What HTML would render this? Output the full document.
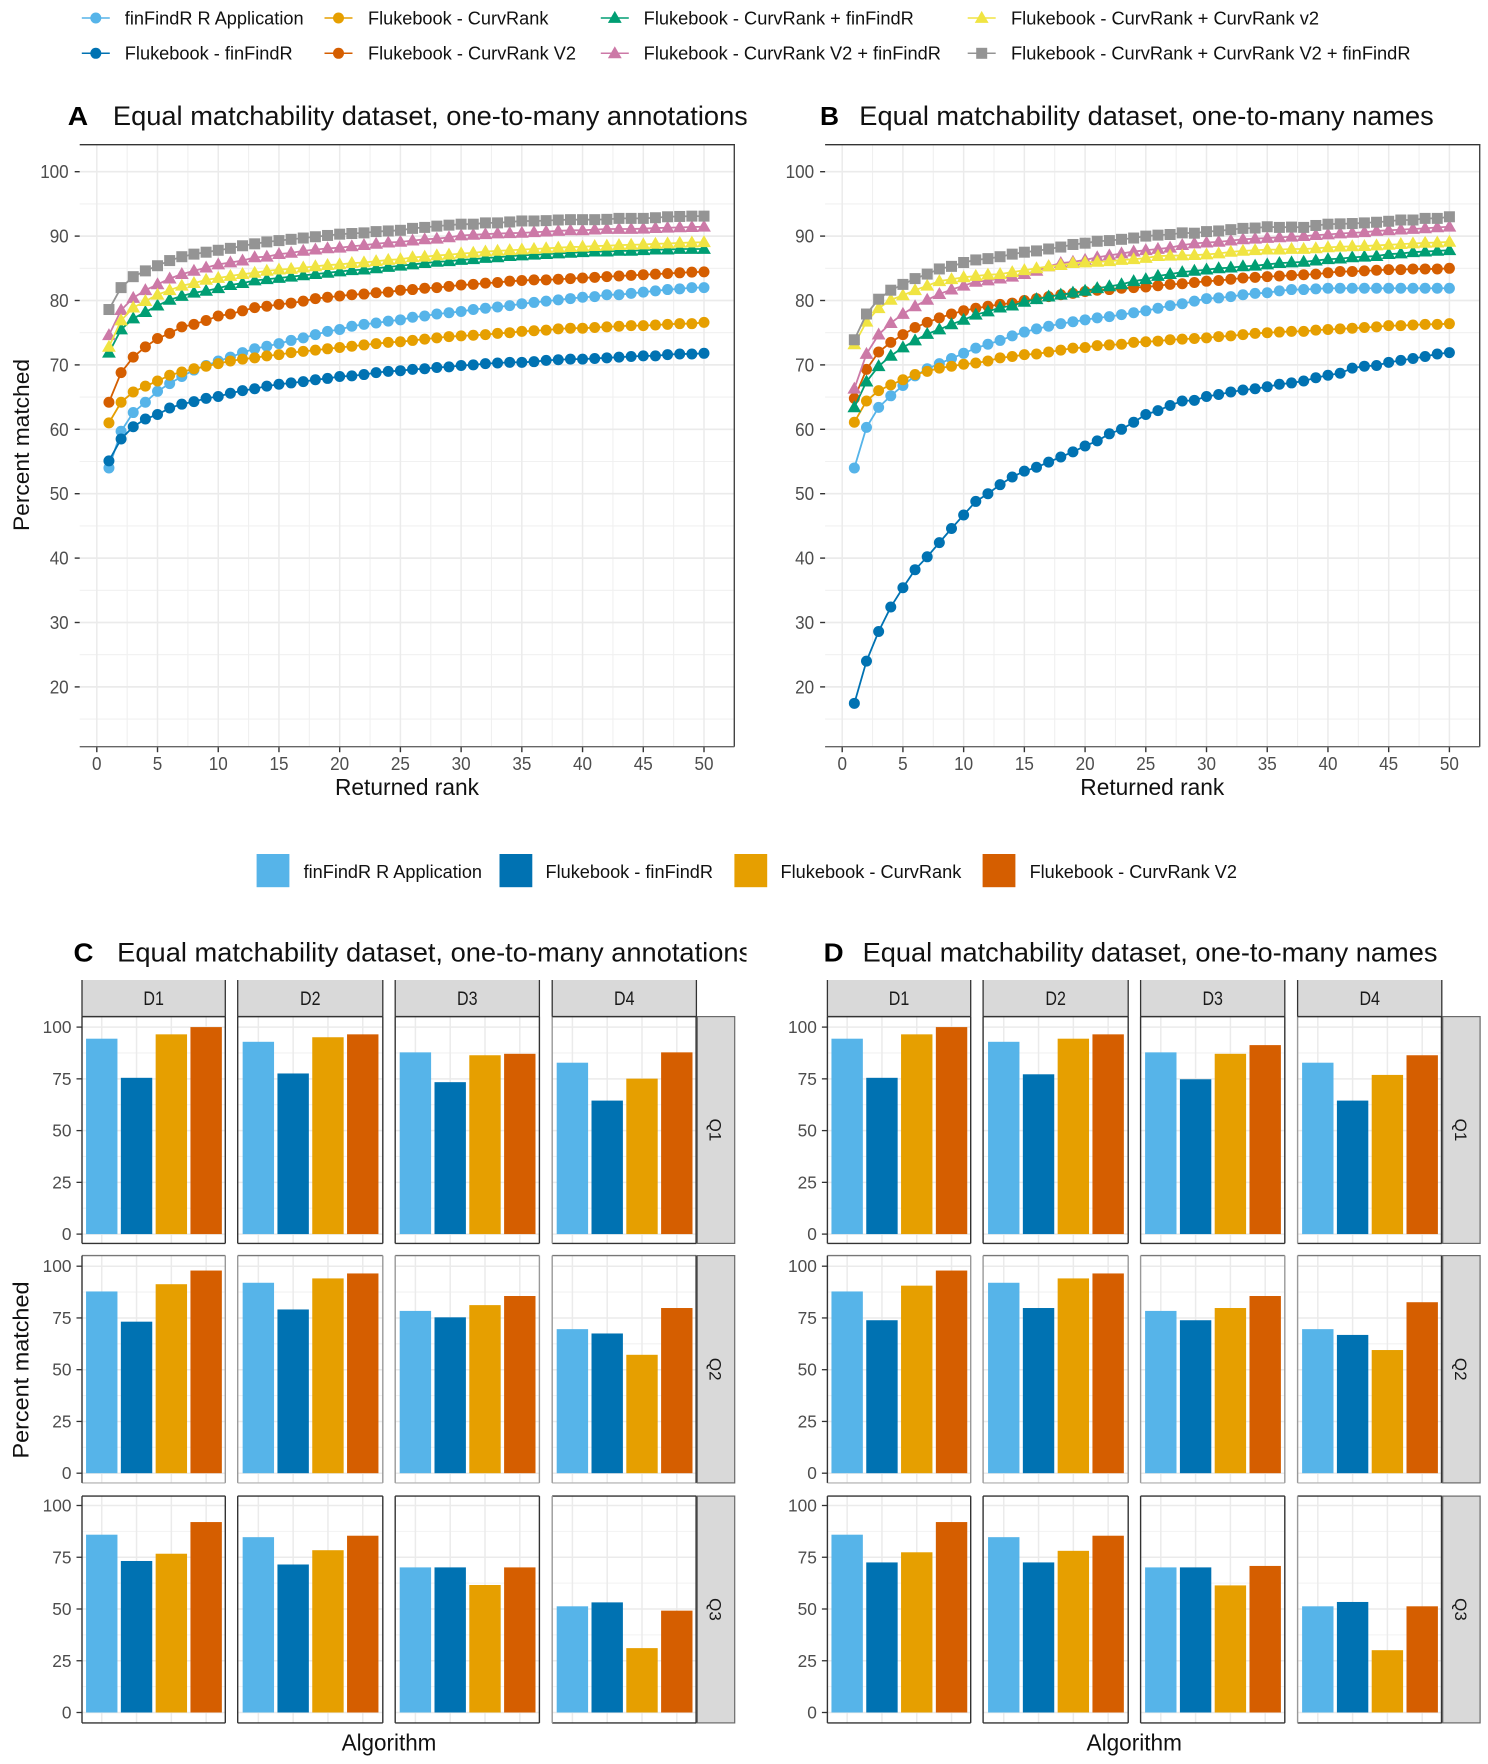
<!DOCTYPE html>
<html lang="en">
<head>
<meta charset="utf-8">
<title>Equal matchability dataset results</title>
<style>
html,body{margin:0;padding:0;background:#fff;}
svg{display:block;font-family:"Liberation Sans",sans-serif;filter:blur(0.35px);}
</style>
</head>
<body>
<svg id="figure" xmlns="http://www.w3.org/2000/svg" width="1488" height="1764" viewBox="0 0 1488 1764">
  <defs>
    <clipPath id="title-clip"><rect x="0" y="90" width="746.5" height="900"/></clipPath>
  </defs>
  <rect x="0" y="0" width="1488" height="1764" fill="#ffffff"/>
  <text x="67.8" y="125" font-size="26" font-weight="bold" fill="#000" textLength="20.4" lengthAdjust="spacingAndGlyphs">A</text>
  <text x="112.9" y="125" font-size="26.5" fill="#111" textLength="635" lengthAdjust="spacingAndGlyphs" clip-path="url(#title-clip)">Equal matchability dataset, one-to-many annotations</text>
  <text x="820" y="125" font-size="26" font-weight="bold" fill="#000" textLength="19" lengthAdjust="spacingAndGlyphs">B</text>
  <text x="859.3" y="125" font-size="26.5" fill="#111" textLength="574.5" lengthAdjust="spacingAndGlyphs">Equal matchability dataset, one-to-many names</text>
  <text x="73.5" y="961.7" font-size="26" font-weight="bold" fill="#000" textLength="20" lengthAdjust="spacingAndGlyphs">C</text>
  <text x="117.2" y="961.7" font-size="26.5" fill="#111" textLength="635" lengthAdjust="spacingAndGlyphs" clip-path="url(#title-clip)">Equal matchability dataset, one-to-many annotations</text>
  <text x="823.7" y="961.7" font-size="26" font-weight="bold" fill="#000" textLength="20" lengthAdjust="spacingAndGlyphs">D</text>
  <text x="862.6" y="961.7" font-size="26.5" fill="#111" textLength="574.9" lengthAdjust="spacingAndGlyphs">Equal matchability dataset, one-to-many names</text>
  <text x="335" y="795" font-size="23" fill="#111" textLength="144" lengthAdjust="spacingAndGlyphs">Returned rank</text>
  <text x="1080.3" y="795" font-size="23" fill="#111" textLength="144" lengthAdjust="spacingAndGlyphs">Returned rank</text>
  <text transform="translate(29 531) rotate(-90)" x="0" y="0" font-size="22" fill="#111" textLength="172" lengthAdjust="spacingAndGlyphs">Percent matched</text>
  <text transform="translate(28.5 1458.5) rotate(-90)" x="0" y="0" font-size="22" fill="#111" textLength="177" lengthAdjust="spacingAndGlyphs">Percent matched</text>
  <text x="341.6" y="1750.5" font-size="23" fill="#111" textLength="94.8" lengthAdjust="spacingAndGlyphs">Algorithm</text>
  <text x="1086.5" y="1750.5" font-size="23" fill="#111" textLength="95.4" lengthAdjust="spacingAndGlyphs">Algorithm</text>
  <g id="line-legend"></g>
  <g id="bar-legend"></g>
  <g id="panel-a"></g>
  <g id="panel-b"></g>
  <g id="panel-c"></g>
  <g id="panel-d"></g>
</svg>
<script>
// ---------- tick labels and categories ----------
const lineYTicks = [20, 30, 40, 50, 60, 70, 80, 90, 100];
const lineYMinor = [15, 25, 35, 45, 55, 65, 75, 85, 95];
const lineXTicks = [0, 5, 10, 15, 20, 25, 30, 35, 40, 45, 50];
const lineXMinor = [2.5, 7.5, 12.5, 17.5, 22.5, 27.5, 32.5, 37.5, 42.5, 47.5];
const barYTicks = [0, 25, 50, 75, 100];
const barYMinor = [12.5, 37.5, 62.5, 87.5];
const datasets = ['D1', 'D2', 'D3', 'D4'];
const quality = ['Q1', 'Q2', 'Q3'];
const barLabels = ['finFindR R Application', 'Flukebook - finFindR', 'Flukebook - CurvRank', 'Flukebook - CurvRank V2'];

// ---------- panel A: one-to-many annotations, rank 1..50 ----------
const aFinFindRApp = [54.0,59.7,62.6,64.2,65.9,67.1,68.2,69.2,69.9,70.6,71.2,71.9,72.5,72.9,73.3,73.8,74.2,74.7,75.2,75.5,76,76.3,76.5,76.8,77,77.4,77.6,77.9,78.1,78.3,78.6,78.8,79,79.2,79.5,79.7,79.9,80.1,80.3,80.5,80.6,80.9,80.9,81.1,81.3,81.5,81.7,81.8,82,82];
const aFinFindR = [55.1,58.5,60.4,61.6,62.3,63.3,63.9,64.3,64.8,65.1,65.6,66,66.3,66.7,67,67.2,67.4,67.7,67.9,68.2,68.3,68.5,68.8,69,69.1,69.3,69.4,69.6,69.7,69.9,70,70.2,70.3,70.4,70.4,70.5,70.7,70.8,70.9,70.9,71,71.1,71.2,71.3,71.4,71.4,71.6,71.7,71.7,71.8];
const aCurvRank = [61,64.2,65.8,66.7,67.5,68.4,68.9,69.4,69.8,70.2,70.6,70.9,71.1,71.4,71.6,71.9,72.1,72.3,72.5,72.7,72.9,73.1,73.3,73.5,73.6,73.8,74,74.2,74.4,74.5,74.6,74.7,74.9,75,75.2,75.3,75.4,75.6,75.7,75.7,75.8,75.9,76,76.1,76.1,76.2,76.3,76.4,76.4,76.6];
const aCurvRankV2 = [64.2,68.8,71.2,72.8,74.1,74.9,75.9,76.3,76.9,77.6,77.9,78.4,78.9,79.1,79.4,79.6,79.9,80.3,80.5,80.7,80.9,81,81.2,81.3,81.6,81.7,81.9,82,82.2,82.4,82.5,82.7,82.8,83,83.1,83.2,83.2,83.3,83.4,83.5,83.6,83.7,83.8,83.9,84,84.1,84.2,84.3,84.4,84.45];
const aCurvFin = [71.9,75.5,77.2,78.2,79.2,80.1,80.7,81.2,81.5,81.9,82.4,82.7,83.1,83.3,83.5,83.7,83.9,84.1,84.3,84.5,84.7,84.8,85,85.2,85.4,85.6,85.8,86,86.1,86.3,86.4,86.6,86.7,86.9,87,87.1,87.2,87.3,87.4,87.5,87.6,87.6,87.7,87.7,87.8,87.9,87.9,88,88,88];
const aV2Fin = [74.6,78.5,80.4,81.6,82.5,83.4,84.1,84.6,85.1,85.6,85.9,86.2,86.7,86.8,87.2,87.4,87.7,87.9,88.1,88.2,88.4,88.6,88.8,89,89.1,89.3,89.5,89.6,89.8,90.1,90.2,90.3,90.4,90.45,90.5,90.6,90.7,90.8,90.9,90.9,91,91.1,91.1,91.1,91.15,91.25,91.3,91.35,91.4,91.45];
const aCurvV2 = [72.8,76.9,78.9,79.9,80.9,81.6,82.3,82.7,83.2,83.5,83.8,84.1,84.3,84.6,84.8,84.9,85.1,85.3,85.5,85.6,85.8,85.9,86.1,86.3,86.4,86.7,86.8,87,87.1,87.3,87.4,87.6,87.7,87.8,87.9,88,88.1,88.2,88.3,88.35,88.45,88.5,88.6,88.65,88.7,88.8,88.85,88.95,89,89.05];
const aAllThree = [78.6,82,83.7,84.6,85.4,86.2,86.8,87.2,87.5,87.8,88.1,88.5,88.8,89.1,89.3,89.5,89.7,89.9,90.1,90.3,90.4,90.5,90.7,90.8,90.9,91.2,91.35,91.55,91.7,91.85,91.85,92.05,92.05,92.2,92.35,92.35,92.4,92.5,92.55,92.55,92.55,92.6,92.75,92.75,92.75,92.85,93,93.05,93.1,93.1];

// ---------- panel B: one-to-many names, rank 1..50 ----------
const bFinFindRApp = [54,60.3,63.4,65.2,66.8,68.3,69.4,70.2,71,71.8,72.6,73.2,73.8,74.5,75.1,75.6,76,76.4,76.7,77,77.3,77.5,77.8,78.1,78.4,78.8,79.2,79.5,79.9,80.3,80.4,80.6,80.9,81.1,81.2,81.5,81.7,81.7,81.8,81.9,81.9,81.9,81.9,81.9,81.9,81.9,81.9,81.9,81.9,81.9];
const bFinFindR = [17.45,24,28.6,32.4,35.4,38.2,40.2,42.4,44.6,46.7,48.8,50,51.4,52.6,53.5,54.1,54.9,55.7,56.5,57.4,58.2,59.3,60,61.1,62.3,62.9,63.7,64.4,64.5,65.1,65.4,65.8,66.1,66.3,66.6,67,67.2,67.5,68,68.4,68.7,69.5,69.8,69.9,70.4,70.7,71,71.3,71.7,71.9];
const bCurvRank = [61.1,64.4,66,66.9,67.7,68.5,69,69.5,69.8,70.1,70.3,70.6,71.1,71.3,71.6,71.7,72,72.3,72.6,72.7,73,73.1,73.2,73.5,73.6,73.7,73.9,74,74.1,74.2,74.4,74.5,74.7,74.9,75,75.1,75.2,75.2,75.4,75.5,75.6,75.7,75.8,75.9,76.1,76.1,76.2,76.3,76.3,76.4];
const bCurvRankV2 = [64.8,69.3,72,73.5,74.7,75.8,76.6,77.3,77.9,78.4,78.8,79.1,79.4,79.6,80,80.3,80.6,80.9,81.1,81.4,81.6,81.7,81.9,82,82.1,82.3,82.5,82.6,82.8,83,83.1,83.3,83.5,83.6,83.7,83.8,83.9,84,84.1,84.3,84.5,84.5,84.6,84.7,84.8,84.8,84.9,84.9,84.9,85];
const bCurvFin = [63.4,67.4,69.8,71.4,72.7,73.8,74.8,75.5,76.3,77,77.8,78.3,78.9,79.2,79.8,80.2,80.6,80.9,81.2,81.5,81.9,82.2,82.5,83,83.3,83.8,84.1,84.4,84.6,84.8,85,85.1,85.3,85.4,85.6,85.8,85.9,86,86.2,86.4,86.5,86.7,86.8,86.9,87.2,87.3,87.5,87.6,87.7,87.8];
const bV2Fin = [66.3,71.7,74.7,76.5,77.9,79.1,80.1,81,81.7,82.3,82.9,83.1,83.4,83.7,84.1,84.6,85.3,85.8,86,86.3,86.7,87,87.3,87.6,87.8,88,88.2,88.6,88.85,89,89.1,89.3,89.5,89.6,89.7,89.8,89.9,90,90.15,90.25,90.4,90.5,90.6,90.8,90.9,91,91.1,91.2,91.35,91.45];
const bCurvV2 = [73.2,76.7,78.8,80.1,80.8,81.6,82.3,83,83.3,83.6,83.8,84,84.1,84.4,84.7,85,85.3,85.5,85.8,85.9,86,86.1,86.3,86.4,86.6,86.9,86.95,87,87.05,87.15,87.3,87.55,87.7,87.8,87.9,87.9,88,88,88.1,88.25,88.35,88.4,88.45,88.55,88.65,88.75,88.85,88.95,89,89.1];
const bAllThree = [73.9,77.9,80.2,81.6,82.5,83.4,84.1,84.9,85.3,85.9,86.3,86.5,86.8,87.2,87.5,87.7,88,88.3,88.7,88.9,89.2,89.3,89.5,89.7,90,90.15,90.25,90.5,90.45,90.7,90.8,91,91.2,91.25,91.45,91.35,91.4,91.35,91.65,91.85,91.9,91.95,92.05,92.15,92.3,92.5,92.5,92.75,92.75,93];

// ---------- panel C bars: each row lists D1..D4, each with four algorithms ----------
const cQ1 = [[94.4,75.5,96.5,100],[92.9,77.6,95.1,96.5],[87.8,73.4,86.4,87.1],[82.8,64.5,75.1,87.8]];
const cQ2 = [[87.8,73.2,91.3,97.9],[92,79.1,94.1,96.5],[78.4,75.3,81.2,85.6],[69.6,67.5,57.2,79.8]];
const cQ3 = [[85.9,73.2,76.7,92],[84.7,71.5,78.4,85.4],[70.1,70.1,61.6,70.1],[51.3,53.2,31.1,49.2]];

// ---------- panel D bars ----------
const dQ1 = [[94.4,75.5,96.5,100],[92.9,77.2,94.4,96.5],[87.8,74.8,87.1,91.3],[82.8,64.5,76.9,86.4]];
const dQ2 = [[87.8,73.9,90.6,97.9],[92,79.8,94.1,96.5],[78.4,73.9,79.8,85.6],[69.6,66.8,59.5,82.6]];
const dQ3 = [[85.9,72.5,77.4,92],[84.7,72.5,78.1,85.4],[70.1,70.1,61.4,70.8],[51.3,53.4,30.1,51.3]];

const C = {light:'#56B4E9', blue:'#0072B2', orange:'#E69F00', verm:'#D55E00', green:'#009E73', yellow:'#F0E442', pink:'#CC79A7', gray:'#949494'};
const NS = 'http://www.w3.org/2000/svg';

function make(tag, attrs, parent) {
  const e = document.createElementNS(NS, tag);
  for (const k in attrs) e.setAttribute(k, attrs[k]);
  parent.appendChild(e);
  return e;
}

function label(str, x, y, size, fill, anchor, len, parent) {
  const attrs = {x: x, y: y, 'font-size': size, fill: fill, 'text-anchor': anchor};
  if (len) { attrs.textLength = len; attrs.lengthAdjust = 'spacingAndGlyphs'; }
  const t = make('text', attrs, parent);
  t.textContent = str;
  return t;
}

function seg(x1, y1, x2, y2, color, width, parent) {
  return make('line', {x1: x1, y1: y1, x2: x2, y2: y2, stroke: color, 'stroke-width': width}, parent);
}

function marker(shape, x, y, color, parent, k) {
  if (shape === 'circle') return make('circle', {cx: x, cy: y, r: 5.5 * k, fill: color}, parent);
  if (shape === 'square') return make('rect', {x: x - 5.5 * k, y: y - 5.5 * k, width: 11 * k, height: 11 * k, fill: color}, parent);
  return make('polygon', {points: (x - 6.9 * k) + ',' + (y + 4.9 * k) + ' ' + (x + 6.9 * k) + ',' + (y + 4.9 * k) + ' ' + x + ',' + (y - 7.1 * k), fill: color}, parent);
}

// ---------- line panels ----------
const PANEL_TOP = 144.7, PANEL_BOTTOM = 746.7;
function lineX(rank, dx) { return 96.8 + dx + rank * 12.144; }
function lineY(v) { return 171.7 + (100 - v) * 6.44; }

function drawLinePanel(group, dx, seriesList) {
  const left = 79.7 + dx, right = 734.3 + dx;
  lineYMinor.forEach(function (v) {
    const g = seg(left, lineY(v), right, lineY(v), '#f1f1f1', 1.1, group);
    
    
  });
  lineXMinor.forEach(function (v) {
    const g = seg(lineX(v, dx), PANEL_TOP, lineX(v, dx), PANEL_BOTTOM, '#f0f0f0', 1.1, group);
    
    
  });
  lineYTicks.forEach(function (v) {
    const g = seg(left, lineY(v), right, lineY(v), '#ebebeb', 1.7, group);
    
    
    const t = seg(left - 5, lineY(v), left, lineY(v), '#333333', 1.4, group);
    
    
    const s = String(v);
    const l = label(s, left - 11, lineY(v) + 6.5, 18, '#4d4d4d', 'end', s.length * 9.5, group);
    
    
  });
  lineXTicks.forEach(function (v) {
    const g = seg(lineX(v, dx), PANEL_TOP, lineX(v, dx), PANEL_BOTTOM, '#ebebeb', 1.5, group);
    
    
    const t = seg(lineX(v, dx), PANEL_BOTTOM, lineX(v, dx), PANEL_BOTTOM + 5.5, '#333333', 1.4, group);
    
    
    const s = String(v);
    const l = label(s, lineX(v, dx), 770, 18, '#4d4d4d', 'middle', s.length * 9.5, group);
    
    
  });
  seriesList.forEach(function (s) {
    const sg = make('g', {}, group);
    
    
    const pts = s.values.map(function (v, i) { return lineX(i + 1, dx).toFixed(2) + ',' + lineY(v).toFixed(2); }).join(' ');
    const pl = make('polyline', {points: pts, fill: 'none', stroke: s.color, 'stroke-width': 1.8}, sg);
    
    
    s.values.forEach(function (v, i) {
      const m = marker(s.shape, lineX(i + 1, dx), lineY(v), s.color, sg, 1);
      
      
    });
  });
  const top = seg(left, PANEL_TOP, right + 0.7, PANEL_TOP, '#333333', 1.4, group);
  
  
  const rgt = seg(right, PANEL_TOP, right, PANEL_BOTTOM, '#444444', 1.4, group);
  
  
  const bot = seg(left, PANEL_BOTTOM, right, PANEL_BOTTOM, '#666666', 1.4, group);
  
  
}

drawLinePanel(document.getElementById('panel-a'), 0, [
  {key: 'finfindr-r-application', color: C.light, shape: 'circle', values: aFinFindRApp},
  {key: 'flukebook-finfindr', color: C.blue, shape: 'circle', values: aFinFindR},
  {key: 'flukebook-curvrank', color: C.orange, shape: 'circle', values: aCurvRank},
  {key: 'flukebook-curvrank-v2', color: C.verm, shape: 'circle', values: aCurvRankV2},
  {key: 'curvrank-finfindr', color: C.green, shape: 'triangle', values: aCurvFin},
  {key: 'curvrank-v2-finfindr', color: C.pink, shape: 'triangle', values: aV2Fin},
  {key: 'curvrank-curvrank-v2', color: C.yellow, shape: 'triangle', values: aCurvV2},
  {key: 'curvrank-v2-all', color: C.gray, shape: 'square', values: aAllThree}
]);
drawLinePanel(document.getElementById('panel-b'), 745.4, [
  {key: 'finfindr-r-application', color: C.light, shape: 'circle', values: bFinFindRApp},
  {key: 'flukebook-finfindr', color: C.blue, shape: 'circle', values: bFinFindR},
  {key: 'flukebook-curvrank', color: C.orange, shape: 'circle', values: bCurvRank},
  {key: 'flukebook-curvrank-v2', color: C.verm, shape: 'circle', values: bCurvRankV2},
  {key: 'curvrank-finfindr', color: C.green, shape: 'triangle', values: bCurvFin},
  {key: 'curvrank-v2-finfindr', color: C.pink, shape: 'triangle', values: bV2Fin},
  {key: 'curvrank-curvrank-v2', color: C.yellow, shape: 'triangle', values: bCurvV2},
  {key: 'curvrank-v2-all', color: C.gray, shape: 'square', values: bAllThree}
]);

// ---------- top legend ----------
const lineLegend = document.getElementById('line-legend');
[
  ['finFindR R Application', C.light, 'circle', 95.8, 18, 124.8, 178.8],
  ['Flukebook - finFindR', C.blue, 'circle', 95.8, 53.3, 124.8, 167.9],
  ['Flukebook - CurvRank', C.orange, 'circle', 338.5, 18, 368, 180.4],
  ['Flukebook - CurvRank V2', C.verm, 'circle', 338.5, 53.3, 368, 208],
  ['Flukebook - CurvRank + finFindR', C.green, 'triangle', 614.8, 18, 643.7, 270.1],
  ['Flukebook - CurvRank V2 + finFindR', C.pink, 'triangle', 614.8, 53.3, 643.7, 297.2],
  ['Flukebook - CurvRank + CurvRank v2', C.yellow, 'triangle', 981.7, 18, 1011, 308],
  ['Flukebook - CurvRank + CurvRank V2 + finFindR', C.gray, 'square', 981.7, 53.3, 1011, 399.5]
].forEach(function (d) {
  const g = make('g', {}, lineLegend);
  
  
  const ln = seg(d[3] - 14, d[4], d[3] + 14, d[4], d[1], 1.5, g);
  
  
  const m = marker(d[2], d[3], d[4], d[1], g, 1);
  
  
  const t = label(d[0], d[5], d[4] + 6.4, 18, '#111111', 'start', d[6], g);
  
  
});

// ---------- bar legend ----------
const barLegend = document.getElementById('bar-legend');
const barColors = [C.light, C.blue, C.orange, C.verm];
const barLegendLayout = [[256.6, 303.6, 178.4], [499.5, 545.5, 167.5], [734.4, 780.5, 180.8], [982.6, 1029.6, 207.3]];
barLabels.forEach(function (name, i) {
  const g = make('g', {}, barLegend);
  
  
  const r = make('rect', {x: barLegendLayout[i][0], y: 854, width: 32.8, height: 33.2, fill: barColors[i]}, g);
  
  
  const t = label(name, barLegendLayout[i][1], 877.8, 18, '#111111', 'start', barLegendLayout[i][2], g);
  
  
});

// ---------- bar panels ----------
const rowTop = [1016.6, 1255.6, 1496.1];
const rowBottom = [1243.4, 1482.9, 1722.9];
const rowZero = [1234.1, 1473.2, 1712.5];
const colLeft = [82, 237.7, 395.2, 552.2];
const colRight = [225.3, 382.8, 539.4, 696.4];
const BAR_STEP = 34.8, BAR_WIDTH = 31.4;
function barY(v, row) { return rowZero[row] - v * 2.07; }
function barX(i, col, dx) { return (colLeft[col] + colRight[col]) / 2 + 0.3 + dx + (i - 1.5) * BAR_STEP; }

function drawBarPanel(group, dx, rows) {
  rows.forEach(function (rowData, r) {
    rowData.forEach(function (vals, c) {
      const L = colLeft[c] + dx, R = colRight[c] + dx, T = rowTop[r], B = rowBottom[r];
      const p = make('g', {}, group);
      
      
      barYMinor.forEach(function (v) {
        const g = seg(L, barY(v, r), R, barY(v, r), '#f2f2f2', 1.1, p);
        
        
      });
      barYTicks.forEach(function (v) {
        const g = seg(L, barY(v, r), R, barY(v, r), '#ebebeb', 1.5, p);
        
        
      });
      vals.forEach(function (v, i) {
        const g = seg(barX(i, c, dx), T, barX(i, c, dx), B, '#ebebeb', 1.5, p);
        
        
      });
      vals.forEach(function (v, i) {
        const b = make('rect', {x: barX(i, c, dx) - BAR_WIDTH / 2, y: barY(v, r), width: BAR_WIDTH, height: v * 2.07, fill: barColors[i]}, p);
        
        
      });
      const cTop = r === 1 ? '#777777' : '#333333';
      const cBot = r === 1 ? '#bbbbbb' : '#333333';
      const cLeft = c === 3 ? '#999999' : (r === 1 && c > 0 ? '#999999' : '#333333');
      const cRight = c === 3 ? '#333333' : (r === 1 ? '#999999' : '#333333');
      const bt = seg(L, T, R, T, cTop, 1.4, p);
      
      
      const bb = seg(L, B, R, B, cBot, 1.4, p);
      
      
      const bl = seg(L, T, L, B, cLeft, 1.4, p);
      
      
      const br = seg(R, T, R, B, cRight, c === 3 ? 2 : 1.4, p);
      
      
    });
    const ax = colLeft[0] + dx;
    barYTicks.forEach(function (v) {
      const t = seg(ax - 5.5, barY(v, r), ax, barY(v, r), '#333333', 1.3, group);
      
      
      const l = label(String(v), ax - 10.5, barY(v, r) + 6, 17.3, '#4d4d4d', 'end', null, group);
      
      
    });
    const sx = 697.3 + dx, sw = 37.4;
    const strip = make('rect', {x: sx, y: rowTop[r], width: sw, height: rowBottom[r] - rowTop[r], fill: '#d9d9d9', stroke: '#6a6a6a', 'stroke-width': 1.2}, group);
    
    
    const q = label(quality[r], 0, 0, 17, '#1a1a1a', 'middle', null, group);
    q.setAttribute('transform', 'translate(' + (709.5 + dx) + ' ' + ((rowTop[r] + rowBottom[r]) / 2) + ') rotate(90)');
    
    
  });
  datasets.forEach(function (d, c) {
    const L = colLeft[c] + dx, R = colRight[c] + dx;
    const strip = make('rect', {x: L, y: 980, width: R - L, height: 36.6, fill: '#d9d9d9'}, group);
    
    
    const sl = seg(L, 980, L, 1016.6, '#333333', 1.3, group);
    
    
    const sr = seg(R, 980, R, 1016.6, '#333333', 1.3, group);
    
    
    const sb = seg(L, 1016.6, R, 1016.6, '#333333', 1.4, group);
    
    
    const t = label(d, (L + R) / 2, 1005, 19, '#1a1a1a', 'middle', 20.5, group);
    
    
  });
}

drawBarPanel(document.getElementById('panel-c'), 0, [cQ1, cQ2, cQ3]);
drawBarPanel(document.getElementById('panel-d'), 745.4, [dQ1, dQ2, dQ3]);
</script>
</body>
</html>
